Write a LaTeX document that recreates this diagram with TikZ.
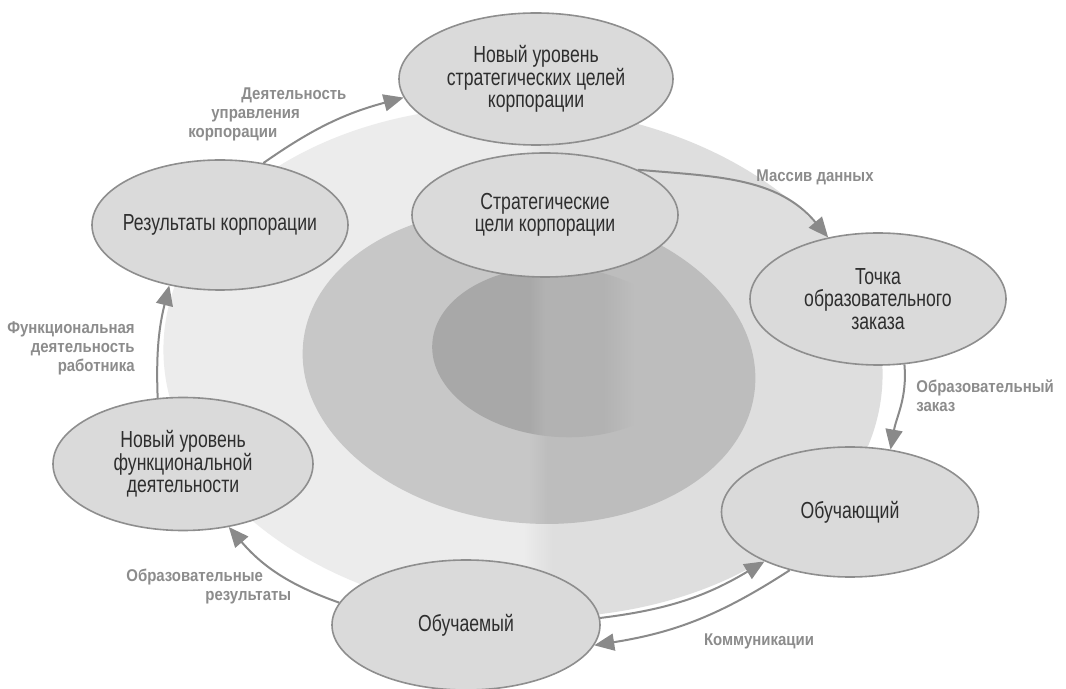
\documentclass[tikz,border=0pt]{standalone}
\usepackage{fontspec}
\setmainfont{Liberation Sans}
\newfontfamily\bubfont[FakeStretch=0.76]{Liberation Sans}
\newfontfamily\lblfont[FakeStretch=0.88]{Liberation Sans}
\usepackage{xcolor}
\usepackage{tikz}
\usetikzlibrary{shapes.geometric,arrows.meta,backgrounds}

\definecolor{outL}{HTML}{ECECEC}
\definecolor{outR}{HTML}{DEDEDE}
\definecolor{midL}{HTML}{C7C7C7}
\definecolor{midR}{HTML}{BDBDBD}
\definecolor{inL}{HTML}{A8A8A8}
\definecolor{inM}{HTML}{B2B2B2}
\definecolor{bubfill}{HTML}{DADADA}
\definecolor{edgegray}{HTML}{8E8E8E}
\definecolor{linegray}{HTML}{8A8A8A}
\definecolor{lblgray}{HTML}{8C8C8C}

\pgfdeclarehorizontalshading{outershade}{100bp}{color(0bp)=(outL); color(50bp)=(outL); color(52bp)=(outR); color(100bp)=(outR)}
\pgfdeclarehorizontalshading{midshade}{100bp}{color(0bp)=(midL); color(50bp)=(midL); color(52bp)=(midR); color(100bp)=(midR)}
\pgfdeclarehorizontalshading{innershade}{100bp}{color(0bp)=(inL); color(44bp)=(inL); color(47bp)=(inM); color(58bp)=(inM); color(64bp)=(midR); color(100bp)=(midR)}

\begin{document}
\begin{tikzpicture}[
    x=0.5pt, y=0.5pt,
    bub/.style={ellipse, draw=edgegray, line width=0.8pt, fill=bubfill, text=black!82, align=center, inner xsep=-6pt, inner ysep=0pt, minimum width=128pt, minimum height=65pt, font={\bubfont\fontsize{11.6}{11.2}\selectfont}},
    lbl/.style={text=lblgray, align=left, inner sep=0pt, font={\lblfont\bfseries\fontsize{8.5}{9.5}\selectfont}},
    arrow/.style={-{Triangle[length=10pt,width=8.5pt]}, line width=1pt, color=linegray},
]
    \useasboundingbox (0,0) rectangle (1066,-689);

    \node[bub, minimum width=137pt, minimum height=66pt] (newgoal) at (536,-79) {Новый уровень\\стратегических целей\\корпорации};
    \node[bub, minimum width=133pt, minimum height=62pt] (goal) at (545,-215) {Стратегические\\цели корпорации};
    \node[bub] (res) at (220,-225) {Результаты корпорации};
    \node[bub, minimum height=66pt] (order) at (878,-299) {Точка\\образовательного\\заказа};
    \node[bub, minimum width=130pt, minimum height=66.5pt] (newfunc) at (183,-464) {Новый уровень\\функциональной\\деятельности};
    \node[bub, minimum width=128.5pt] (teacher) at (850,-512) {Обучающий};
    \node[bub, minimum width=134pt] (learner) at (466,-625) {Обучаемый};

    \draw[arrow] (res.55) to[bend left=10] (newgoal.188);
    \draw[arrow] (goal.26) to[out=-5, in=130] (order.129);
    \draw[arrow] (order.-68) to[out=-85, in=80] (teacher.57);
    \draw[arrow] (learner.3) to[bend right=12] (teacher.210);
    \draw[arrow] (teacher.224) to[bend left=12] (learner.-9);
    \draw[arrow] (learner.170) to[bend left=15] (newfunc.-54);
    \draw[arrow] (newfunc.111) to[bend left=8] (res.230);

    \node[lbl, anchor=north west] (lmgmt) at (188,-87) {\hspace*{26.5pt}Деятельность\\\hspace*{11.5pt}управления\\корпорации};
    \node[lbl] (ldata) at (815,-177) {Массив данных};
    \node[lbl, anchor=north west] (lorder) at (916,-379) {Образовательный\\заказ};
    \node[lbl] (lcomm) at (759,-641) {Коммуникации};
    \node[lbl, anchor=north west] (lres) at (126,-569) {Образовательные\\\hspace*{39.5pt}результаты};
    \node[lbl, anchor=north east, align=right] (lfunc) at (135,-321) {Функциональная\\деятельность\\работника};

    \begin{scope}[on background layer]
        \fill[white] (0,0) rectangle (1066,-689);
        \shade[shading=outershade, rotate around={-4:(523,-362)}] (523,-362) ellipse [x radius=180pt, y radius=127.5pt];
        \shade[shading=midshade, rotate around={-6:(529,-366)}] (529,-366) ellipse [x radius=113.5pt, y radius=78.5pt];
        \shade[shading=innershade, rotate around={-4:(561,-352)}] (561,-352) ellipse [x radius=64.5pt, y radius=42.5pt];
    \end{scope}
\end{tikzpicture}
\end{document}
